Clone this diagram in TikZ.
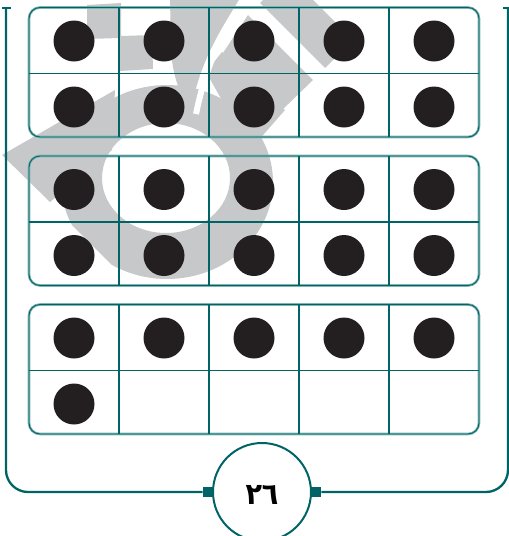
\documentclass[tikz,border=0pt]{standalone}
\usepackage{fontspec}
\newfontfamily\arabicfont[Script=Arabic,FakeStretch=0.9]{DejaVu Sans}
\definecolor{tealdark}{RGB}{0,100,102}
\definecolor{teallight}{RGB}{128,180,180}
\definecolor{dotblack}{RGB}{35,31,32}
\definecolor{wmgray}{RGB}{199,200,202}
\tikzset{
  wm/.style={fill=wmgray, draw=none},
  wmgap/.style={draw=white, line width=6pt, line cap=butt},
  gridline/.style={draw=tealdark, line width=1.9pt},
  borderlight/.style={draw=teallight, line width=2.6pt, rounded corners=11pt},
  borderdark/.style={draw=tealdark, line width=0.9pt, rounded corners=11pt},
  dot/.style={circle, fill=dotblack, minimum size=41pt, inner sep=0pt},
  marker/.style={rectangle, fill=tealdark, minimum width=9pt, minimum height=10pt, inner sep=0pt},
  bracket/.style={draw=tealdark, line width=2.3pt, rounded corners=22pt},
  tick/.style={draw=tealdark, line width=2pt},
  sumcircle/.style={circle, draw=tealdark, line width=2pt, fill=white, minimum size=98pt, inner sep=0pt},
  sumlabel/.style={font=\arabicfont\bfseries\fontsize{30}{30}\selectfont, text=black, inner sep=0pt}
}
\begin{document}
\begin{tikzpicture}[x=1pt, y=-1pt]
\useasboundingbox (0,0) rectangle (509,536);
% ---- watermark ----
\begin{scope}
  \clip (-50,103) -- (-50,-50) -- (420,-50) -- (420,420) -- (267,420) -- cycle;
  \fill[wm, even odd rule] (167,182) ellipse[x radius=106, y radius=97]
                           (166,178) ellipse[x radius=64, y radius=55];
\end{scope}
\fill[wm] (2,155) -- (115,90) -- (112,150) -- (50,202) -- cycle;
\fill[wm] (206,72) -- (222,52) -- (285,110) -- (250,150) -- cycle;
\fill[wm] (223,53) -- (248,15) -- (313,80) -- (280,112) -- cycle;
\fill[wm] (260,3) -- (288,-25) -- (353,40) -- (325,68) -- cycle;
\fill[wm] (87,5) -- (121,3) -- (121,36) -- (152,35) -- (153,69) -- (120,71) -- (120,38) -- (87,39) -- cycle;
\draw[wmgap] (246,-2) .. controls (228,25) and (208,55) .. (196,114);
\fill[wm] (170,-2) -- (240,-2) .. controls (222,28) and (200,60) .. (191,110) -- (186,104) .. controls (178,90) and (172,70) .. (171,50) -- cycle;
% ---- ten frames ----
\foreach \t [count=\f] in {7.5,156,304.5} {
  \draw[borderlight] (29,\t) rectangle (479,\t+129.5);
  \draw[borderdark] (29,\t) rectangle (479,\t+129.5);
  \draw[gridline] (29,\t+66) -- (479,\t+66);
  \foreach \x in {119,209,299,389}
    \draw[gridline] (\x,\t) -- (\x,\t+129.5);
}
% dots
\foreach \t [count=\f] in {7.5,156} {
  \foreach \r/\dy in {1/33.5,2/99.5}
    \foreach \c in {1,...,5}
      \node[dot] (d\f-\r-\c) at ({74+90*(\c-1)},\t+\dy) {};
}
\foreach \c in {1,...,5}
  \node[dot] (d3-1-\c) at ({74+90*(\c-1)},338) {};
\node[dot] (d3-2-1) at (74,404) {};
% ---- sum circle and bracket ----
\node[sumcircle] (sum) at (262,492) {};
\node[sumlabel] (sumtext) at (262,495) {٢٦};
\node[marker, anchor=east] (mL) at (sum.west) {};
\node[marker, anchor=west] (mR) at (sum.east) {};
\coordinate (cornerL) at (6,492);
\coordinate (cornerR) at (508,492);
\coordinate (topL) at (6,8);
\coordinate (topR) at (508,8);
\coordinate (tickL1) at (2,8);
\coordinate (tickL2) at (11,8);
\coordinate (tickR1) at (503,8);
\coordinate (tickR2) at (512,8);
\draw[bracket] (mL.west) -- (cornerL) -- (topL);
\draw[bracket] (mR.east) -- (cornerR) -- (topR);
\draw[tick] (tickL1) -- (tickL2);
\draw[tick] (tickR1) -- (tickR2);
\end{tikzpicture}
\end{document}
